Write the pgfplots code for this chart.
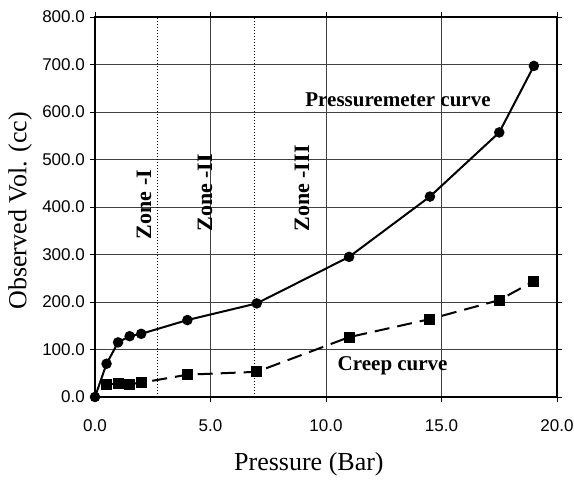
\documentclass[border=0pt]{standalone}
\usepackage{pgfplots}
\pgfplotsset{compat=1.18}
\usepackage{fontspec}
\setmainfont{Liberation Serif}
\newfontfamily\arial{Liberation Sans}

\begin{document}
\begin{tikzpicture}
\begin{axis}[
 scale only axis,
 width=462pt,height=380pt,
 xmin=0,xmax=20,ymin=0,ymax=800,
 xtick={0,5,...,20},ytick={0,100,...,800},
 grid=major,
 major grid style={line width=0.8pt,color=black!75},
 tick align=outside,tick style={black,line width=0.8pt},
 major tick length=5pt,
 /pgf/number format/.cd,fixed,fixed zerofill,precision=1,assume math mode=true,
 /pgfplots/.cd,
 ticklabel style={font=\arial\fontsize{17}{18}\selectfont,inner sep=0pt},
 xticklabel style={anchor=center,yshift=-24pt},
 yticklabel style={anchor=east,xshift=-5pt},
 xlabel={Pressure (Bar)},ylabel={Observed Vol. (cc)},
 label style={font=\fontsize{26}{28}\selectfont},
 xlabel style={at={(axis description cs:0.463,-0.1763)},anchor=center},
 ylabel style={at={(axis description cs:-0.1623,0.49)},anchor=center},
 after end axis/.code={
   \draw[black,line width=2.6pt] (rel axis cs:0,0) rectangle (rel axis cs:1,1);
 },
]
\addplot[black,line width=2pt,mark=*,mark size=4.2pt] coordinates {
(0,0) (0.5,70) (1,115) (1.5,128) (2,133) (4,162) (7,197) (11,295) (14.5,422) (17.5,557) (19,697)};
\addplot[black,line width=2pt,dash pattern=on 15pt off 8pt,mark=square*,mark size=4.5pt,mark options={solid}] coordinates {
(0.5,27) (1,28) (1.5,27) (2,30) (4,47) (7,53) (11,126) (14.5,164) (17.5,204) (19,244)};
\draw[black,line width=1pt,dash pattern=on 1pt off 2pt] (axis cs:2.7,0) -- (axis cs:2.7,800);
\draw[black,line width=1pt,dash pattern=on 1pt off 2pt] (axis cs:6.9,0) -- (axis cs:6.9,800);
\node[rotate=90,anchor=west,inner sep=0pt,font=\bfseries\fontsize{22}{23}\selectfont] at (axis cs:2.12,332) {Zone -I};
\node[rotate=90,anchor=west,inner sep=0pt,font=\bfseries\fontsize{22}{23}\selectfont] at (axis cs:4.76,348) {Zone -II};
\node[rotate=90,anchor=west,inner sep=0pt,font=\bfseries\fontsize{22}{23}\selectfont] at (axis cs:8.96,348) {Zone -III};
\node[anchor=west,inner sep=0pt,font=\bfseries\fontsize{21}{22}\selectfont] at (axis cs:9.1,625) {Pressuremeter curve};
\node[anchor=west,inner sep=0pt,font=\bfseries\fontsize{21}{22}\selectfont] at (axis cs:10.5,66) {Creep curve};
\end{axis}
\path (-95pt,-85pt) rectangle (479pt,397pt);
\end{tikzpicture}
\end{document}
